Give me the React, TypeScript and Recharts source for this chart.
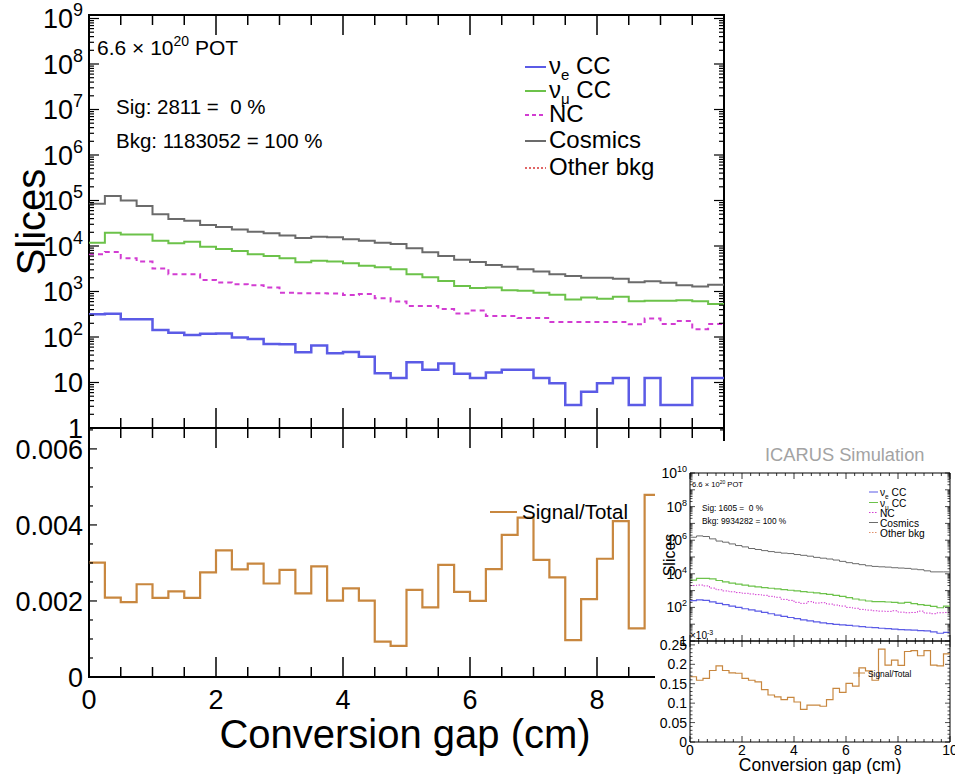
import React from "react";
import { LineChart, Line, XAxis, YAxis, ReferenceArea } from "recharts";

const W = 955;
const H = 774;
const FONT = "'Liberation Sans', Arial, Helvetica, sans-serif";

// ---------- binning (categories) ----------
const BIN_WIDTH = 0.25;
const N_BINS = 40;
const binEdges = Array.from({ length: N_BINS + 1 }, (_, i) => i * BIN_WIDTH);

// ---------- main plot series (Slices per bin) ----------
const mainNueCC = [315, 325, 245, 245, 142, 124, 110, 118, 120, 97, 90, 70, 69, 46, 65, 44, 47, 37, 16, 12.5, 28, 19, 26, 15.5, 12.5, 16.5, 19, 19, 12.5, 9.6, 3.2, 6.3, 9.6, 12.5, 3.2, 12.5, 3.2, 3.2, 12.5, 12.5];
const mainNumuCC = [11800, 19600, 17800, 17800, 13000, 11500, 12400, 9600, 8600, 7800, 6600, 6000, 5400, 4400, 4750, 4550, 4200, 3700, 3400, 3100, 2400, 2050, 1700, 1320, 1200, 1230, 1070, 1040, 940, 850, 670, 740, 690, 770, 610, 630, 630, 640, 610, 530];
const mainNC = [6600, 7400, 5400, 4550, 3200, 2400, 2400, 1780, 1580, 1450, 1370, 1230, 940, 910, 910, 900, 840, 880, 710, 600, 480, 480, 410, 330, 380, 290, 290, 260, 260, 215, 215, 215, 215, 215, 190, 255, 194, 225, 148, 194];
const mainCosmics = [85000, 126000, 100000, 76000, 50000, 39000, 36000, 29000, 26000, 23000, 20600, 19000, 17000, 15000, 16000, 15500, 14000, 13000, 11800, 11000, 8900, 7300, 6000, 5000, 4450, 3800, 3500, 3100, 2750, 2400, 2200, 2000, 2000, 1900, 1600, 1670, 1550, 1370, 1280, 1400];
// Signal/Total (bins beyond 9 cm are hidden behind the inset)
const mainRatio = [0.00301, 0.00209, 0.00197, 0.00244, 0.00208, 0.00225, 0.00208, 0.00275, 0.00333, 0.00283, 0.00298, 0.00246, 0.00282, 0.0022, 0.00291, 0.00201, 0.00233, 0.00201, 0.00093, 0.00082, 0.00229, 0.00183, 0.00295, 0.00224, 0.002, 0.00284, 0.00374, 0.00419, 0.00308, 0.00262, 0.00097, 0.00205, 0.00311, 0.0041, 0.00128, 0.00479];

// ---------- inset series ----------
const insetNueCC = [250, 280, 263, 214, 174, 145, 120, 100, 83, 71, 60, 50, 42, 35, 29.5, 25, 21.4, 18.2, 15.8, 13.8, 12, 10.7, 9.8, 9.1, 8.5, 7.8, 7.1, 6.6, 6.2, 5.75, 5.4, 5.1, 4.8, 4.6, 4.4, 4.2, 4.0, 3.5, 2.9, 3.3];
const insetNumuCC = [4200, 5400, 5400, 5000, 4000, 3300, 2800, 2400, 2100, 1860, 1660, 1510, 1380, 1260, 1150, 1050, 955, 870, 795, 725, 660, 600, 525, 457, 380, 316, 275, 240, 219, 219, 209, 200, 182, 200, 166, 145, 132, 115, 95, 120];
const insetNC = [2000, 2140, 1900, 1410, 1120, 955, 850, 760, 690, 630, 575, 525, 457, 400, 300, 263, 200, 174, 219, 182, 190, 158, 138, 120, 100, 89, 76, 69, 63, 60, 58, 63, 52, 48, 50, 60, 46, 42, 48, 50];
const insetCosmics = [1500000, 1800000, 1660000, 1200000, 890000, 760000, 600000, 480000, 400000, 320000, 280000, 240000, 210000, 190000, 170000, 160000, 140000, 126000, 112000, 95000, 85000, 76000, 66000, 55000, 46000, 40000, 35000, 30000, 27500, 26000, 25000, 23000, 22000, 21000, 19000, 17500, 15000, 13000, 13000, 13000];
const insetRatio = [0.168, 0.159, 0.164, 0.184, 0.196, 0.184, 0.178, 0.177, 0.164, 0.159, 0.155, 0.135, 0.121, 0.116, 0.109, 0.115, 0.103, 0.084, 0.095, 0.095, 0.092, 0.109, 0.138, 0.128, 0.151, 0.144, 0.191, 0.183, 0.159, 0.239, 0.198, 0.211, 0.197, 0.233, 0.235, 0.222, 0.235, 0.198, 0.196, 0.227];

// ---------- tick labels ----------
const xTickLabels = ["0", "2", "4", "6", "8", "10"];
const mainRatioLabels = ["0", "0.002", "0.004", "0.006"];
const insetRatioLabels = ["0", "0.05", "0.1", "0.15", "0.2", "0.25"];

// ---------- colours ----------
const BLUE = "#5b5be6";
const GREEN = "#6cc24a";
const MAGENTA = "#d23cd2";
const GRAY = "#6b6b6b";
const RED = "#e06666";
const ORANGE = "#c8873f";

type Box = { l: number; r: number; t: number; b: number };
const MAIN_TOP: Box = { l: 89, r: 724, t: 15, b: 428 };
const MAIN_BOT: Box = { l: 89, r: 724, t: 428, b: 677 };
const INS_TOP: Box = { l: 690, r: 950, t: 473, b: 641 };
const INS_BOT: Box = { l: 690, r: 950, t: 641, b: 742 };

function histRows(series: Record<string, number[]>) {
  const keys = Object.keys(series);
  const n = Math.max(...keys.map((k) => series[k].length));
  return binEdges.slice(0, n + 1).map((x, i) => {
    const row: Record<string, number | null> = { x };
    keys.forEach((k) => {
      const arr = series[k];
      row[k] = i < arr.length ? arr[i] : i === arr.length ? arr[arr.length - 1] : null;
    });
    return row;
  });
}

const mainTopRows = histRows({ nue: mainNueCC, numu: mainNumuCC, nc: mainNC, cos: mainCosmics });
const mainBotRows = histRows({ ratio: mainRatio });
const insTopRows = histRows({ nue: insetNueCC, numu: insetNumuCC, nc: insetNC, cos: insetCosmics });
const insBotRows = histRows({ ratio: insetRatio });

function logTicks(maxExp: number) {
  const out: number[] = [];
  for (let e = 0; e <= maxExp; e++) {
    for (let m = 1; m <= 9; m++) {
      if (e === maxExp && m > 1) break;
      out.push(m * Math.pow(10, e));
    }
  }
  return out;
}
const isDecade = (v: number) => Math.abs(Math.log10(v) - Math.round(Math.log10(v))) < 1e-9;
const near = (a: number, b: number) => Math.abs(a - b) < 1e-9;

const mainXTicks = Array.from({ length: 21 }, (_, i) => i * 0.5);
const insetXTicks = Array.from({ length: 31 }, (_, i) => i / 3);
const isEven = (v: number) => near(v / 2, Math.round(v / 2));
const mainRatioTicks = Array.from({ length: 14 }, (_, i) => i * 0.0005);
const insetRatioTicks = Array.from({ length: 26 }, (_, i) => i * 0.01);

type XTickOpts = {
  edges: { y: number; dir: number }[];
  majorLen: number;
  minorLen: number;
  sw: number;
  label?: { y: number; size: number };
};
function makeXTick(o: XTickOpts) {
  return (p: any) => {
    const v = p.payload.value;
    const x = p.payload.coordinate ?? p.x;
    const maj = isEven(v);
    const len = maj ? o.majorLen : o.minorLen;
    return (
      <g>
        {o.edges.map((e, i) => (
          <line key={i} x1={x} x2={x} y1={e.y} y2={e.y + e.dir * len} stroke="#000" strokeWidth={o.sw} />
        ))}
        {o.label && maj ? (
          <text x={x} y={o.label.y} textAnchor="middle" fontSize={o.label.size} fontFamily={FONT} fill="#000">
            {xTickLabels[Math.round(v / 2)]}
          </text>
        ) : null}
      </g>
    );
  };
}

type YTickOpts = {
  edges: { x: number; dir: number }[];
  majorLen: number;
  minorLen: number;
  sw: number;
  isMajor: (v: number) => boolean;
  label: (v: number, y: number) => React.ReactNode;
};
function makeYTick(o: YTickOpts) {
  return (p: any) => {
    const v = p.payload.value;
    const y = p.payload.coordinate ?? p.y;
    const maj = o.isMajor(v);
    const len = maj ? o.majorLen : o.minorLen;
    return (
      <g>
        {o.edges.map((e, i) => (
          <line key={i} x1={e.x} x2={e.x + e.dir * len} y1={y} y2={y} stroke="#000" strokeWidth={o.sw} />
        ))}
        {maj ? o.label(v, y) : null}
      </g>
    );
  };
}

function logLabel(x: number, size: number, supSize: number, supDy: number, every: number) {
  return (v: number, y: number) => {
    const e = Math.round(Math.log10(v));
    if (e % every !== 0) return null;
    const base = y + size * 0.36;
    if (e === 0)
      return <text x={x} y={base} textAnchor="end" fontSize={size} fontFamily={FONT} fill="#000">1</text>;
    if (e === 1 && every === 1)
      return <text x={x} y={base} textAnchor="end" fontSize={size} fontFamily={FONT} fill="#000">10</text>;
    return (
      <text x={x} y={base} textAnchor="end" fontSize={size} fontFamily={FONT} fill="#000">
        10<tspan dy={-supDy} fontSize={supSize}>{e}</tspan>
      </text>
    );
  };
}

function linLabel(x: number, size: number, step: number, labels: string[]) {
  return (v: number, y: number) => (
    <text x={x} y={y + size * 0.36} textAnchor="end" fontSize={size} fontFamily={FONT} fill="#000">
      {labels[Math.round(v / step)]}
    </text>
  );
}

function Panel(props: {
  box: Box;
  data: any[];
  log?: boolean;
  yDomain: [number, number];
  yTicks: number[];
  yTick: (p: any) => React.ReactElement;
  xTicks: number[];
  xTick: (p: any) => React.ReactElement;
  frameWidth: number;
  children: React.ReactNode;
}) {
  const { box } = props;
  return (
    <div style={{ position: "absolute", left: 0, top: 0, width: W, height: H }}>
      <LineChart
        width={W}
        height={H}
        data={props.data}
        margin={{ top: box.t, left: box.l - 1, right: W - box.r, bottom: H - box.b - 1 }}
      >
        <XAxis
          type="number"
          dataKey="x"
          domain={[0, 10]}
          ticks={props.xTicks}
          interval={0}
          tick={props.xTick}
          tickLine={false}
          axisLine={false}
          height={1}
          allowDataOverflow
        />
        <YAxis
          type="number"
          scale={props.log ? "log" : "linear"}
          domain={props.yDomain}
          ticks={props.yTicks}
          interval={0}
          tick={props.yTick}
          tickLine={false}
          axisLine={false}
          width={1}
          allowDataOverflow
        />
        {props.children}
        <ReferenceArea
          x1={0}
          x2={10}
          y1={props.yDomain[0]}
          y2={props.yDomain[1]}
          fill="none"
          fillOpacity={0}
          stroke="#000"
          strokeWidth={props.frameWidth}
          ifOverflow="visible"
        />
      </LineChart>
    </div>
  );
}

const MAIN_TOP_DOMAIN: [number, number] = [1, Math.pow(10, 9.077)];
const MAIN_BOT_DOMAIN: [number, number] = [0, 0.00655];
const INS_TOP_DOMAIN: [number, number] = [1, 1e10];
const INS_BOT_DOMAIN: [number, number] = [0, 0.26];

const txt = { fontFamily: FONT, fill: "#000" } as const;

function MainOverlay() {
  const legendRows = [
    { y: 74, color: BLUE, dash: undefined as string | undefined, w: 2, label: <>ν<tspan dy={6} fontSize={15}>e</tspan><tspan dy={-6}> CC</tspan></> },
    { y: 98, color: GREEN, dash: undefined, w: 2, label: <>ν<tspan dy={6} fontSize={15}>μ</tspan><tspan dy={-6}> CC</tspan></> },
    { y: 122, color: MAGENTA, dash: "4 3", w: 2, label: <>NC</> },
    { y: 148, color: GRAY, dash: undefined, w: 2, label: <>Cosmics</> },
    { y: 175, color: RED, dash: "2 2", w: 2, label: <>Other bkg</> },
  ];
  return (
    <svg width={W} height={H} style={{ position: "absolute", left: 0, top: 0 }}>
      <text transform="translate(45,222) rotate(-90)" textAnchor="middle" fontSize={40} {...txt}>Slices</text>
      <text x={405} y={748} textAnchor="middle" fontSize={40} {...txt}>Conversion gap (cm)</text>
      <text x={97} y={55} fontSize={21} {...txt}>
        6.6 × 10<tspan dy={-9} fontSize={14}>20</tspan><tspan dy={9}> POT</tspan>
      </text>
      <text x={116} y={114} fontSize={20.5} style={{ whiteSpace: "pre" }} {...txt}>Sig: 2811 =  0 %</text>
      <text x={116} y={148} fontSize={20.5} style={{ whiteSpace: "pre" }} {...txt}>Bkg: 1183052 = 100 %</text>
      {legendRows.map((r, i) => (
        <g key={i}>
          <line x1={525} x2={546} y1={r.y - 7} y2={r.y - 7} stroke={r.color} strokeWidth={r.w} strokeDasharray={r.dash} />
          <text x={549} y={r.y} fontSize={24} {...txt}>{r.label}</text>
        </g>
      ))}
      <line x1={490} x2={517} y1={512} y2={512} stroke={ORANGE} strokeWidth={2} />
      <text x={522} y={519} fontSize={20.5} {...txt}>Signal/Total</text>
    </svg>
  );
}

function InsetOverlay() {
  const legendRows = [
    { y: 496, color: BLUE, dash: undefined as string | undefined, label: <>ν<tspan dy={3} fontSize={6.5}>e</tspan><tspan dy={-3}> CC</tspan></> },
    { y: 506.5, color: GREEN, dash: undefined, label: <>ν<tspan dy={3} fontSize={6.5}>μ</tspan><tspan dy={-3}> CC</tspan></> },
    { y: 516.5, color: MAGENTA, dash: "1.5 1.5", label: <>NC</> },
    { y: 526.5, color: GRAY, dash: undefined, label: <>Cosmics</> },
    { y: 536.5, color: "#e0906a", dash: "1.5 1.5", label: <>Other bkg</> },
  ];
  return (
    <svg width={W} height={H} style={{ position: "absolute", left: 0, top: 0 }}>
      <text x={765} y={461} fontSize={18.3} fontFamily={FONT} fill="#a3a3a3">ICARUS Simulation</text>
      <text transform="translate(675,555) rotate(-90)" textAnchor="middle" fontSize={16} {...txt}>Slices</text>
      <text x={820} y={771} textAnchor="middle" fontSize={17.5} {...txt}>Conversion gap (cm)</text>
      <text x={692} y={487} fontSize={7.6} {...txt}>
        6.6 × 10<tspan dy={-3.5} fontSize={5}>20</tspan><tspan dy={3.5}> POT</tspan>
      </text>
      <text x={702} y={511} fontSize={8.3} style={{ whiteSpace: "pre" }} {...txt}>Sig: 1605 =  0 %</text>
      <text x={702} y={524} fontSize={8.3} style={{ whiteSpace: "pre" }} {...txt}>Bkg: 9934282 = 100 %</text>
      {legendRows.map((r, i) => (
        <g key={i}>
          <line x1={869} x2={878} y1={r.y - 4} y2={r.y - 4} stroke={r.color} strokeWidth={1} strokeDasharray={r.dash} />
          <text x={880} y={r.y} fontSize={10.2} {...txt}>{r.label}</text>
        </g>
      ))}
      <text x={690} y={639} fontSize={10} {...txt}>
        ×10<tspan dy={-4} fontSize={7}>-3</tspan>
      </text>
      <line x1={853} x2={865} y1={673} y2={673} stroke={ORANGE} strokeWidth={1} />
      <line x1={859} x2={859} y1={669} y2={677} stroke={ORANGE} strokeWidth={1} />
      <text x={868} y={677} fontSize={8.4} {...txt}>Signal/Total</text>
    </svg>
  );
}

export default function App() {
  const mainTopX = makeXTick({ edges: [{ y: MAIN_TOP.t, dir: 1 }, { y: MAIN_TOP.b, dir: -1 }], majorLen: 20, minorLen: 10, sw: 1.5 });
  const mainTopY = makeYTick({
    edges: [{ x: MAIN_TOP.l, dir: 1 }, { x: MAIN_TOP.r, dir: -1 }],
    majorLen: 10, minorLen: 5, sw: 1.2, isMajor: isDecade,
    label: logLabel(83, 27, 18, 12, 1),
  });
  const mainBotX = makeXTick({
    edges: [{ y: MAIN_BOT.t, dir: 1 }, { y: MAIN_BOT.b, dir: -1 }], majorLen: 20, minorLen: 10, sw: 1.5,
    label: { y: 709, size: 27 },
  });
  const mainBotY = makeYTick({
    edges: [{ x: MAIN_BOT.l, dir: 1 }, { x: MAIN_BOT.r, dir: -1 }],
    majorLen: 8, minorLen: 4, sw: 1.2, isMajor: (v) => near(v / 0.002, Math.round(v / 0.002)),
    label: linLabel(83, 27, 0.002, mainRatioLabels),
  });
  const insTopX = makeXTick({ edges: [{ y: INS_TOP.t, dir: 1 }, { y: INS_TOP.b, dir: -1 }], majorLen: 6, minorLen: 3, sw: 0.8 });
  const insTopY = makeYTick({
    edges: [{ x: INS_TOP.l, dir: 1 }, { x: INS_TOP.r, dir: -1 }],
    majorLen: 5, minorLen: 2.5, sw: 0.7, isMajor: isDecade,
    label: logLabel(687, 14, 9, 6, 2),
  });
  const insBotX = makeXTick({
    edges: [{ y: INS_BOT.t, dir: 1 }, { y: INS_BOT.b, dir: -1 }], majorLen: 6, minorLen: 3, sw: 0.8,
    label: { y: 755, size: 14 },
  });
  const insBotY = makeYTick({
    edges: [{ x: INS_BOT.l, dir: 1 }, { x: INS_BOT.r, dir: -1 }],
    majorLen: 5, minorLen: 2.5, sw: 0.7, isMajor: (v) => near(v / 0.05, Math.round(v / 0.05)),
    label: linLabel(687, 14, 0.05, insetRatioLabels),
  });

  return (
    <div style={{ position: "absolute", left: 0, top: 0, width: W, height: H, background: "#fff", overflow: "hidden" }}>
      <Panel box={MAIN_TOP} data={mainTopRows} log yDomain={MAIN_TOP_DOMAIN} yTicks={logTicks(9)} yTick={mainTopY}
        xTicks={mainXTicks} xTick={mainTopX} frameWidth={2}>
        <Line type="stepAfter" dataKey="cos" stroke={GRAY} strokeWidth={2} dot={false} isAnimationActive={false} />
        <Line type="stepAfter" dataKey="numu" stroke={GREEN} strokeWidth={2} dot={false} isAnimationActive={false} />
        <Line type="stepAfter" dataKey="nc" stroke={MAGENTA} strokeWidth={2} strokeDasharray="5 4" dot={false} isAnimationActive={false} />
        <Line type="stepAfter" dataKey="nue" stroke={BLUE} strokeWidth={2.5} dot={false} isAnimationActive={false} />
      </Panel>
      <Panel box={MAIN_BOT} data={mainBotRows} yDomain={MAIN_BOT_DOMAIN} yTicks={mainRatioTicks} yTick={mainBotY}
        xTicks={mainXTicks} xTick={mainBotX} frameWidth={2}>
        <Line type="stepAfter" dataKey="ratio" stroke={ORANGE} strokeWidth={2.2} dot={false} isAnimationActive={false} />
      </Panel>
      <MainOverlay />
      <div style={{ position: "absolute", left: 655, top: 441, width: 300, height: 333, background: "#fff" }} />
      <Panel box={INS_TOP} data={insTopRows} log yDomain={INS_TOP_DOMAIN} yTicks={logTicks(10)} yTick={insTopY}
        xTicks={insetXTicks} xTick={insTopX} frameWidth={1}>
        <Line type="stepAfter" dataKey="cos" stroke={GRAY} strokeWidth={1} dot={false} isAnimationActive={false} />
        <Line type="stepAfter" dataKey="numu" stroke={GREEN} strokeWidth={1.2} dot={false} isAnimationActive={false} />
        <Line type="stepAfter" dataKey="nc" stroke={MAGENTA} strokeWidth={1} strokeDasharray="1.5 1.5" dot={false} isAnimationActive={false} />
        <Line type="stepAfter" dataKey="nue" stroke={BLUE} strokeWidth={1.2} dot={false} isAnimationActive={false} />
      </Panel>
      <Panel box={INS_BOT} data={insBotRows} yDomain={INS_BOT_DOMAIN} yTicks={insetRatioTicks} yTick={insBotY}
        xTicks={insetXTicks} xTick={insBotX} frameWidth={1}>
        <Line type="stepAfter" dataKey="ratio" stroke={ORANGE} strokeWidth={1.2} dot={false} isAnimationActive={false} />
      </Panel>
      <InsetOverlay />
    </div>
  );
}
